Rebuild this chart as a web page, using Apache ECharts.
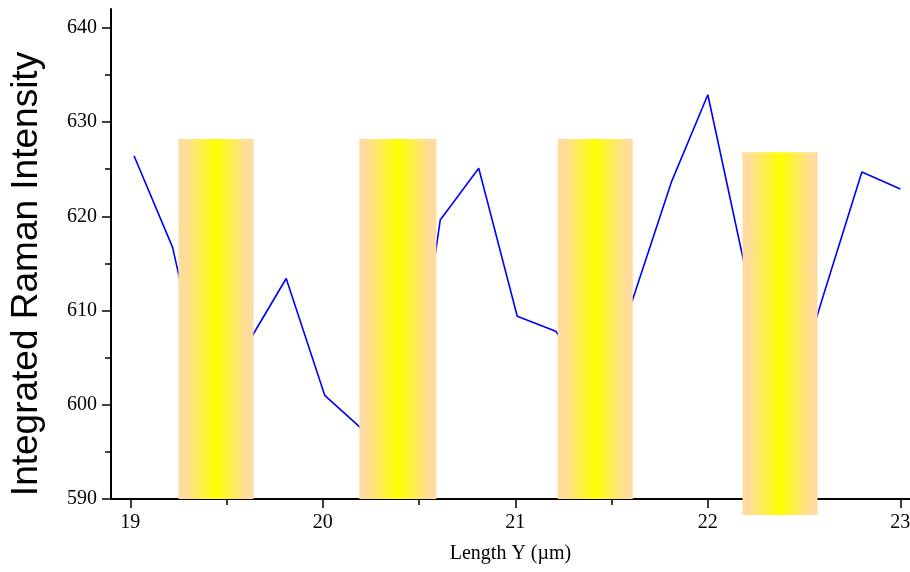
<!DOCTYPE html>
<html>
<head>
<meta charset="utf-8">
<script src="https://cdn.jsdelivr.net/npm/echarts@6/dist/echarts.min.js"></script>
<style>
	html, body { margin: 0; padding: 0; background: #fff; }
	#chart { width: 910px; height: 572px; }
</style>
</head>
<body>
<div id="chart"></div>
<script>
// line samples (length Y, intensity)
const lengthY = [19.02, 19.22, 19.42, 19.61, 19.81, 20.01, 20.21, 20.41, 20.61, 20.81, 21.01, 21.21, 21.41, 21.61, 21.81, 22.0, 22.2, 22.4, 22.6, 22.8, 23.0]
const intensity = [626.4, 616.7, 598.4, 606.5, 613.4, 601.0, 597.3, 591.5, 619.6, 625.1, 609.4, 607.8, 602.0, 611.2, 623.6, 632.9, 613.9, 598.3, 611.6, 624.7, 622.9]

// highlighted bands
const bandStart = [19.25, 20.19, 21.22, 22.18]
const bandEnd = [19.64, 20.59, 21.61, 22.57]
const bandTop = [628.2, 628.2, 628.2, 626.8]
const bandBottom = [590, 590, 590, 588.3]

// ticks
const xMajor = [19, 20, 21, 22, 23]
const xMinor = [19.5, 20.5, 21.5, 22.5]
const yMajor = [590, 600, 610, 620, 630, 640]
const yMinor = [595, 605, 615, 625, 635]

const serif = '"Liberation Serif", "DejaVu Serif", serif'

const chart = echarts.init(document.getElementById('chart'))

const axisBase = {
	type: 'value',
	axisLine: { lineStyle: { color: '#000', width: 2 } },
	splitLine: { show: false }
}

const option = {
	animation: false,
	backgroundColor: '#fff',
	grid: { left: 111, right: 0, top: 9, bottom: 73, outerBoundsMode: 'none' },
	xAxis: [
		{
			...axisBase,
			min: 18.9,
			max: 23.05,
			position: 'bottom',
			axisTick: { customValues: xMajor, length: 9, lineStyle: { color: '#000', width: 1.5 } },
			axisLabel: { customValues: xMajor, margin: 14, color: '#000', fontSize: 20, fontFamily: serif },
			name: 'Length Y (µm)',
			nameLocation: 'middle',
			nameGap: 45,
			nameTextStyle: { color: '#000', fontSize: 20, fontFamily: serif }
		},
		{
			...axisBase,
			min: 18.9,
			max: 23.05,
			position: 'bottom',
			axisLine: { show: false },
			axisTick: { customValues: xMinor, length: 6, lineStyle: { color: '#000', width: 1.5 } },
			axisLabel: { show: false }
		}
	],
	yAxis: [
		{
			...axisBase,
			min: 590,
			max: 642,
			position: 'left',
			axisTick: { customValues: yMajor, length: 9, lineStyle: { color: '#000', width: 1.5 } },
			axisLabel: { customValues: yMajor, margin: 14, color: '#000', fontSize: 20, fontFamily: serif }
		},
		{
			...axisBase,
			min: 590,
			max: 642,
			position: 'left',
			axisLine: { show: false },
			axisTick: { customValues: yMinor, length: 6, lineStyle: { color: '#000', width: 1.5 } },
			axisLabel: { show: false }
		}
	],
	graphic: [
		{
			type: 'text',
			x: 27,
			y: 274,
			rotation: Math.PI / 2,
			style: {
				text: 'Integrated Raman Intensity',
				font: '37px "Liberation Sans", Arial, sans-serif',
				fill: '#000',
				align: 'center',
				verticalAlign: 'middle'
			}
		}
	],
	series: [
		{
			type: 'line',
			xAxisIndex: 0,
			yAxisIndex: 0,
			z: 2,
			symbol: 'none',
			lineStyle: { color: '#0000ff', width: 1.6 },
			data: lengthY.map((x, i) => [x, intensity[i]])
		},
		{
			type: 'custom',
			xAxisIndex: 0,
			yAxisIndex: 0,
			z: 3,
			clip: false,
			data: bandStart.map((s, i) => [s, bandEnd[i], bandTop[i], bandBottom[i]]),
			renderItem: (params, api) => {
				const p0 = api.coord([api.value(0), api.value(2)])
				const p1 = api.coord([api.value(1), api.value(3)])
				return {
					type: 'rect',
					shape: { x: p0[0], y: p0[1], width: p1[0] - p0[0], height: p1[1] - p0[1] },
					style: {
						fill: new echarts.graphic.LinearGradient(0, 0, 1, 0, [
							{ offset: 0, color: '#ffdb9f' },
							{ offset: 0.1, color: '#ffdd9a' },
							{ offset: 0.5, color: '#ffff00' },
							{ offset: 0.9, color: '#ffdd9a' },
							{ offset: 1, color: '#ffdb9f' }
						])
					}
				}
			}
		}
	]
}

chart.setOption(option)
</script>
</body>
</html>
